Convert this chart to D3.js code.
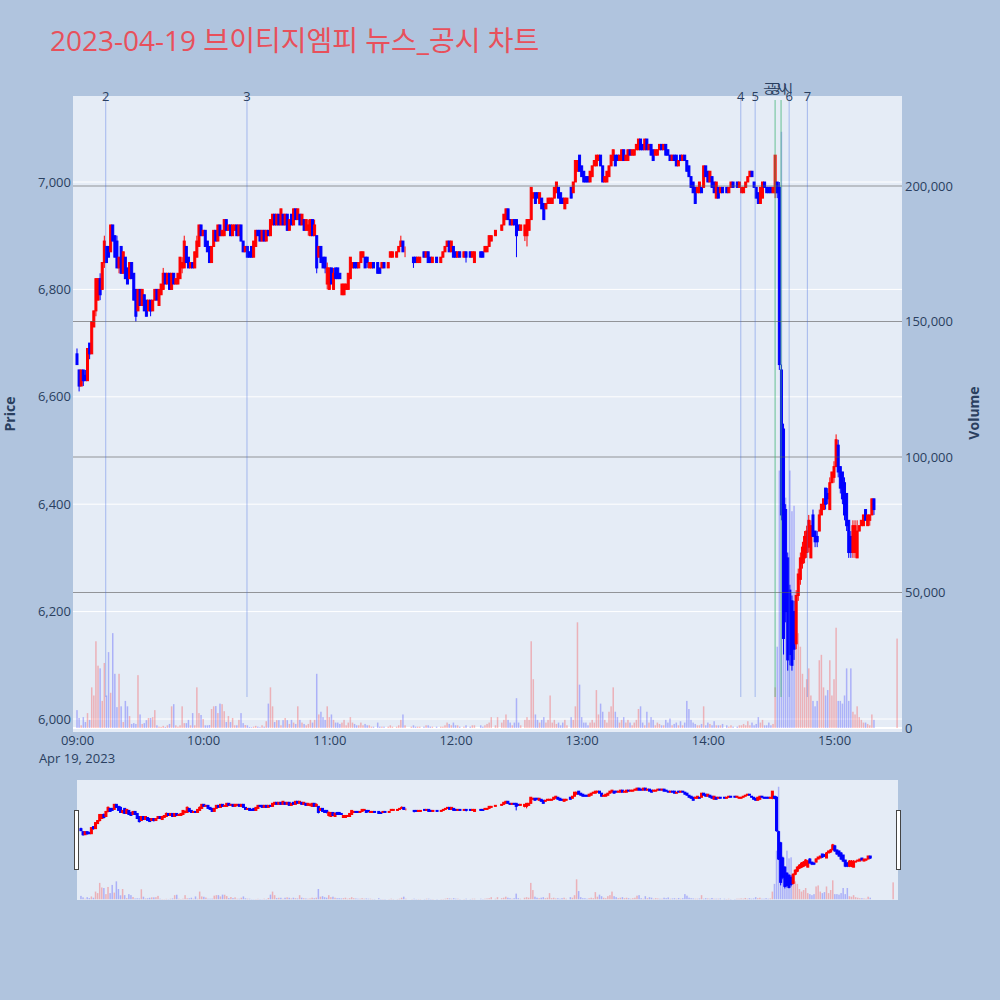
<!DOCTYPE html>
<html><head><meta charset="utf-8">
<script src="https://cdn.jsdelivr.net/npm/d3@7"></script>
<style>body{margin:0;background:#b0c4de;}svg{display:block;font-family:"Open Sans","Noto Sans CJK KR",sans-serif;}</style>
</head><body><svg id="c" width="1000" height="1000"></svg>
<script>
const titleText = "2023-04-19 브이티지엠피 뉴스_공시 차트";
const startTime = "09:00";
const open = [
6680,6650,6620,6650,6640,6630,6700,6680,6730,6760,
6780,6820,6800,6850,6880,6880,6870,6920,6900,6890,
6840,6880,6830,6860,6840,6820,6850,6830,6800,6760,
6800,6770,6790,6780,6760,6780,6760,6780,6800,6770,
6790,6800,6830,6810,6830,6800,6830,6810,6810,6820,
6840,6840,6880,6860,6840,6850,6840,6860,6880,6920,
6900,6910,6890,6880,6850,6880,6910,6890,6920,6900,
6900,6930,6910,6920,6900,6910,6920,6900,6920,6890,
6870,6880,6870,6880,6860,6880,6910,6910,6890,6910,
6890,6910,6900,6920,6940,6920,6940,6920,6940,6920,
6940,6910,6940,6920,6950,6930,6940,6920,6930,6910,
6910,6900,6930,6900,6900,6860,6880,6860,6860,6810,
6800,6840,6800,6840,6840,6830,6790,6790,6800,6800,
6820,6840,6850,6850,6840,6850,6860,6860,6860,6840,
6840,6850,null,6850,6840,6840,6850,null,6840,6860,
6860,null,6860,6870,6880,6890,6870,null,null,6860,
6860,6860,6850,6850,null,6870,6860,6870,6860,6850,
null,6860,null,6850,6860,6870,6880,6890,6870,6880,
6870,6860,6870,null,6860,6870,null,6870,6860,6850,
null,null,6870,6870,6870,6870,6880,6890,null,6900,
6910,null,6910,6920,6930,6950,6930,6920,6930,6930,
6920,6910,null,6900,6900,6910,6930,6970,6980,6980,
6960,6970,6960,6950,6960,6960,6960,6970,6980,6990,
6980,6970,6950,6960,null,6990,6980,7000,7020,7050,
7030,7020,7010,7010,7000,7010,7030,7030,7040,7050,
7030,7000,7000,7010,7030,7040,7050,7050,7040,7040,
7060,7040,7040,7060,7050,7050,7060,7060,7080,7070,
7060,7080,7060,7070,7060,7050,7050,7060,7070,7060,
7070,7060,7050,7040,7050,7050,7030,7050,7040,7050,
7040,7030,7010,7000,6990,6980,6980,6990,6990,7030,
7020,7000,7010,7000,6970,6990,6980,6990,null,6990,
6980,6990,7000,null,7000,6990,6980,6980,6990,7000,
7010,7020,7000,6990,6980,6960,6970,7000,6990,6990,
6990,6980,6980,7000,6990,6650,6540,6390,6300,6240,
6220,6200,6140,6230,6260,6290,6300,6310,6320,6300,
6380,6350,6340,6350,6380,6390,6430,6420,6390,6440,
6450,6470,6510,6470,6460,6440,6420,6370,6340,6310,
6310,6300,6350,6360,6360,6390,6360,6370,6380,6410,
null,null,null,null,null,null,null,null,null,null,
6450];
const high = [
6690,6650,6650,6650,6650,6690,6700,6740,6760,6820,
6820,6830,6850,6900,6880,6880,6920,6920,6900,6900,
6860,6880,6870,6860,6840,6850,6850,6830,6800,6800,
6800,6800,6790,6780,6780,6780,6780,6800,6800,6800,
6810,6840,6830,6830,6830,6830,6830,6820,6830,6860,
6860,6900,6880,6860,6850,6850,6870,6900,6920,6920,
6910,6910,6890,6880,6880,6910,6910,6920,6920,6910,
6930,6930,6920,6920,6920,6920,6920,6920,6920,6890,
6880,6880,6870,6880,6890,6910,6910,6910,6910,6910,
6910,6910,6930,6940,6940,6940,6940,6950,6940,6940,
6940,6930,6940,6950,6950,6950,6940,6940,6930,6930,
6930,6930,6930,6930,6900,6880,6880,6860,6860,6850,
6840,6840,6840,6840,6840,6830,6810,6810,6810,6830,
6860,6850,6850,6850,6850,6870,6870,6860,6860,6850,
6850,6850,null,6850,6840,6850,6850,null,6850,6870,
6870,null,6870,6880,6900,6890,6880,null,null,6860,
6860,6860,6860,6860,null,6870,6870,6870,6860,6860,
null,6860,null,6860,6870,6880,6890,6890,6890,6880,
6870,6870,6870,null,6870,6870,null,6870,6870,6870,
null,null,6870,6870,6880,6880,6900,6900,null,6910,
6910,null,6920,6940,6950,6950,6930,6930,6930,6930,
6920,6920,null,6920,6930,6930,6990,6980,6980,6980,
6980,6970,6960,6960,6970,6970,6970,6990,7000,6990,
6980,6970,6970,6970,null,6990,7000,7040,7040,7050,
7030,7020,7010,7010,7020,7030,7040,7050,7050,7050,
7030,7010,7020,7030,7050,7060,7050,7050,7050,7060,
7060,7050,7060,7060,7060,7060,7070,7080,7080,7070,
7080,7080,7070,7070,7060,7060,7060,7070,7070,7070,
7070,7060,7050,7050,7050,7050,7040,7050,7050,7050,
7040,7030,7010,7000,6990,6990,7000,6990,7030,7030,
7020,7020,7010,7000,7000,6990,6990,6990,null,6990,
6990,7000,7000,null,7000,7000,6990,6990,7000,7010,
7020,7020,7000,6990,6980,6990,7000,7000,6990,6990,
6990,6990,7050,7000,7000,6660,6550,6400,6310,6250,
6230,6220,6240,6280,6310,6330,6350,6360,6380,6370,
6390,6350,6350,6390,6400,6410,6430,6430,6450,6460,
6480,6530,6520,6470,6460,6450,6420,6370,6350,6370,
6370,6370,6360,6370,6380,6390,6380,6380,6410,6410,
null,null,null,null,null,null,null,null,null,null,
6450];
const low = [
6660,6610,6620,6620,6630,6630,6670,6680,6730,6750,
6780,6780,6800,6840,6850,6860,6870,6890,6860,6840,
6830,6830,6830,6820,6810,6820,6820,6780,6740,6760,
6770,6770,6760,6750,6760,6750,6760,6780,6780,6770,
6790,6800,6810,6810,6800,6800,6810,6810,6810,6820,
6830,6840,6850,6840,6840,6840,6840,6860,6880,6900,
6900,6880,6870,6850,6850,6880,6890,6890,6900,6900,
6900,6910,6910,6900,6900,6910,6900,6900,6890,6870,
6870,6860,6860,6860,6860,6880,6900,6890,6890,6890,
6890,6900,6900,6920,6920,6920,6920,6920,6920,6920,
6910,6910,6920,6920,6930,6930,6920,6920,6910,6910,
6900,6900,6900,6900,6830,6860,6850,6840,6830,6800,
6800,6810,6800,6820,6820,6820,6790,6790,6800,6800,
6820,6840,6840,6840,6840,6850,6860,6840,6840,6840,
6840,6840,null,6830,6830,6840,6840,null,6840,6860,
6860,null,6860,6870,6880,6870,6860,null,null,6860,
6840,6850,6850,6850,null,6860,6860,6850,6850,6850,
null,6850,null,6850,6860,6870,6880,6870,6870,6860,
6860,6860,6860,null,6860,6850,null,6860,6860,6850,
null,null,6860,6860,6870,6870,6880,6890,null,6900,
6910,null,6910,6920,6930,6930,6920,6920,6920,6860,
6910,6910,null,6890,6880,6910,6930,6970,6960,6970,
6960,6950,6930,6950,6960,6960,6960,6970,6980,6970,
6960,6960,6950,6960,null,6970,6980,7000,7020,7020,
7010,7000,7000,7000,7000,7010,7030,7030,7040,7030,
7000,7000,7000,7010,7030,7040,7030,7040,7040,7040,
7040,7040,7040,7050,7050,7050,7060,7060,7060,7060,
7060,7060,7060,7050,7040,7050,7050,7060,7060,7060,
7050,7050,7040,7040,7040,7030,7030,7040,7040,7040,
7020,7010,6990,6980,6960,6980,6980,6980,6990,7010,
7000,7000,6990,6980,6970,6970,6980,6980,null,6980,
6980,6990,6990,null,6990,6990,6980,6980,6990,7000,
7010,7010,6990,6970,6960,6960,6970,6990,6980,6980,
6980,6980,6970,6970,6650,6370,6120,6180,6090,6100,
6090,6110,6130,6220,6250,6280,6290,6300,6310,6300,
6340,6320,6320,6350,6380,6390,6390,6400,6390,6440,
6440,6470,6450,6420,6400,6370,6350,6300,6300,6300,
6300,6300,6350,6360,6360,6370,6360,6360,6380,6380,
null,null,null,null,null,null,null,null,null,null,
6450];
const close = [
6660,6620,6650,6630,6630,6690,6680,6740,6760,6820,
6820,6790,6850,6890,6850,6860,6920,6890,6860,6840,
6860,6830,6870,6820,6810,6850,6820,6780,6750,6800,
6770,6800,6760,6750,6780,6760,6780,6800,6780,6800,
6810,6830,6810,6830,6800,6830,6810,6820,6830,6860,
6850,6890,6850,6840,6850,6840,6870,6890,6920,6900,
6910,6880,6870,6850,6880,6910,6890,6920,6900,6910,
6930,6910,6920,6900,6920,6920,6900,6920,6890,6870,
6880,6860,6860,6860,6890,6910,6900,6890,6910,6890,
6910,6900,6930,6940,6920,6940,6920,6950,6920,6940,
6910,6930,6920,6950,6930,6950,6920,6940,6910,6930,
6920,6930,6900,6920,6840,6880,6850,6840,6840,6840,
6840,6810,6830,6820,6820,6820,6810,6810,6810,6830,
6860,6850,6840,6840,6850,6870,6870,6840,6850,6850,
6850,6840,null,6830,6830,6850,6840,null,6850,6870,
6870,null,6870,6880,6890,6870,6870,null,null,6860,
6850,6850,6860,6860,null,6860,6870,6850,6850,6860,
null,6850,null,6860,6870,6880,6890,6870,6890,6860,
6860,6870,6860,null,6870,6860,null,6860,6870,6870,
null,null,6860,6860,6880,6880,6900,6900,null,6910,
6910,null,6920,6940,6950,6930,6920,6930,6920,6900,
6910,6920,null,6920,6930,6930,6990,6980,6960,6970,
6980,6950,6930,6960,6970,6970,6970,6990,7000,6970,
6960,6960,6970,6970,null,6970,7000,7040,7040,7020,
7010,7000,7000,7000,7020,7030,7040,7050,7050,7030,
7000,7010,7020,7030,7050,7060,7030,7040,7050,7060,
7040,7050,7060,7050,7060,7060,7070,7080,7060,7060,
7080,7060,7070,7050,7040,7060,7060,7070,7060,7070,
7050,7050,7040,7050,7040,7030,7040,7040,7050,7040,
7020,7010,6990,6980,6960,6990,7000,6980,7030,7010,
7000,7020,6990,6980,7000,6970,6990,6980,null,6980,
6990,7000,6990,null,6990,7000,6990,6990,7000,7010,
7020,7010,6990,6970,6960,6990,7000,6990,6980,6980,
6980,6990,7050,6980,6660,6380,6150,6200,6110,6120,
6100,6130,6230,6270,6300,6320,6340,6350,6370,6360,
6340,6330,6330,6380,6400,6410,6400,6410,6440,6460,
6470,6520,6460,6430,6410,6380,6360,6310,6310,6360,
6360,6350,6360,6370,6380,6370,6380,6380,6410,6390,
null,null,null,null,null,null,null,null,null,null,
6450];
const volume = [
6600,3700,1000,4000,2200,5500,3000,15000,12000,32000,
23000,22000,10000,24000,12000,28000,13000,35000,20000,7700,
20000,8000,2200,10000,8000,4400,1500,1800,1500,19500,
5000,1500,1800,2900,3700,3700,4000,6600,1000,500,
400,800,400,1000,1500,8000,8800,1000,500,1000,
8000,1800,1800,3000,1000,5500,1000,15000,5500,4800,
3300,1000,1000,1100,7000,8000,8100,5500,9000,8800,
6200,2200,4400,2200,3700,1000,1000,3000,5500,1800,
1100,1000,400,300,500,800,500,300,1000,500,
2500,9000,15000,8000,2200,2900,2900,1000,2900,3700,
2900,1500,3000,2000,1500,8000,3000,2000,1500,1000,
1500,3000,2000,3000,20000,5000,6000,4000,3000,8000,
4000,5000,3000,2000,2000,1500,2000,3000,1000,2000,
4000,2000,1500,1000,1000,2000,1000,1500,1000,1000,
500,500,null,2000,500,500,500,null,500,1000,
500,null,500,1000,3000,5000,1000,null,null,500,
1000,500,500,500,null,500,1000,1000,500,500,
null,500,null,500,500,1000,2000,1500,1000,2000,
1000,1000,500,null,500,1000,null,500,1000,1000,
null,null,1000,500,1000,1500,2000,4000,null,1000,
4000,null,2000,3000,5000,3000,2000,1000,2000,11000,
2000,1000,null,3000,4000,3000,32000,18000,5000,3000,
2000,3000,4000,2000,3000,12000,2000,3000,1500,2000,
1000,2000,3000,1000,null,4000,3000,8000,39000,16000,
4000,2000,2000,1000,2000,3000,2000,14000,5000,9000,
6000,3000,2000,6000,8000,15000,6000,4000,2000,3000,
4000,2000,3000,2000,1000,2000,3000,7000,8000,2000,
1000,6000,2000,4000,3000,1000,2000,1500,1000,1000,
3000,2000,3500,1000,1500,2000,1000,2500,1000,2000,
10000,7000,3000,2000,1500,1000,1000,1500,8000,1000,
2000,1500,1000,2500,1000,1000,1000,1500,null,1000,
500,1000,500,null,500,1000,1000,1500,1000,2500,
1000,2000,1000,1500,4000,2000,3000,1000,1000,2000,
1000,1500,15000,30000,95000,220000,100000,85000,60000,95000,
80000,82000,40000,35000,30000,20000,15000,18000,22000,12000,
10000,8000,10000,25000,27000,15000,12000,14000,25000,12000,
18000,37000,10000,10000,9000,12000,22000,10000,22000,6000,
5000,8000,4000,3000,2000,2000,1500,1000,5000,3000,
null,null,null,null,null,null,null,null,null,null,
33000];
const priceTicks = [6000,6200,6400,6600,6800,7000];
const volumeTicks = [0,50000,100000,150000,200000];
const timeTicks = ["09:00","10:00","11:00","12:00","13:00","14:00","15:00"];
const eventLabels = ["2","3","4","5","6","7"];
const eventTimes = ["09:13:40","10:20:50","14:15:40","14:22:30","14:38:40","14:47:20"];
const disclosureLabel = "공시";
const disclosureTimes = ["14:32:00","14:34:50"];

const day = "2023-04-19";
const parseT = d3.timeParse("%Y-%m-%d %H:%M:%S");
const t = s => parseT(day + " " + (s.length === 5 ? s + ":00" : s));
const start = t(startTime);
const rows = open.map((o, i) => o == null ? null : {
  time: d3.timeMinute.offset(start, i), o, h: high[i], l: low[i], c: close[i], v: volume[i]
}).filter(d => d);

const svg = d3.select("#c");
const TXT = "#2a3f5f";
const UP = "#ff0000", DN = "#0000ff";
const L = 73, R = 902, T = 96, B = 732;
const x = d3.scaleTime().domain([t("08:58:06"), t("15:32:20")]).range([L, R]);
const yP = d3.scaleLinear().domain([6000, 7000]).range([719, 182]);
const yV = d3.scaleLinear().domain([0, 200000]).range([728, 186]);

// slider scales
const SL = 77, SR = 898, ST = 780, SB = 900;
const xs = x.copy().range([SL, SR]);
const frac = v => (B - v) / (B - T);
const yPs = d3.scaleLinear().domain([6000, 7000]).range([SB - frac(719) * (SB - ST), SB - frac(182) * (SB - ST)]);
const yVs = d3.scaleLinear().domain([0, 200000]).range([SB - frac(728) * (SB - ST), SB - frac(186) * (SB - ST)]);

svg.append("rect").attr("width", 1000).attr("height", 1000).attr("fill", "#b0c4de");

// title
svg.append("text").attr("x", 50).attr("y", 51).attr("font-size", 28).attr("fill", "#e8505b").text(titleText);

const defs = svg.append("defs");
defs.append("clipPath").attr("id", "clipMain").append("rect").attr("x", L).attr("y", T).attr("width", R - L).attr("height", B - T);
defs.append("clipPath").attr("id", "clipS").append("rect").attr("x", SL).attr("y", ST).attr("width", SR - SL).attr("height", SB - ST);

svg.append("rect").attr("x", L).attr("y", T).attr("width", R - L).attr("height", B - T).attr("fill", "#e5ecf6");

const gm = svg.append("g").attr("clip-path", "url(#clipMain)");
gm.selectAll("line.pg").data(priceTicks).join("line").attr("class", "pg")
  .attr("x1", L).attr("x2", R).attr("y1", d => yP(d)).attr("y2", d => yP(d))
  .attr("stroke", "#ffffff").attr("stroke-width", 1);
gm.append("line").attr("x1", L).attr("x2", R).attr("y1", yV(0)).attr("y2", yV(0)).attr("stroke", "#fff").attr("stroke-width", 2);

function drawVol(g, xsc, ysc) {
  g.selectAll("rect.v").data(rows).join("rect").attr("class", "v")
    .attr("x", d => xsc(d.time) - 0.75).attr("width", 1.5)
    .attr("y", d => ysc(d.v)).attr("height", d => ysc(0) - ysc(d.v))
    .attr("fill", d => d.c >= d.o ? "rgba(255,0,0,0.25)" : "rgba(0,0,255,0.25)");
}
function drawCandles(g, xsc, ysc) {
  const c = g.selectAll("g.c").data(rows).join("g").attr("class", "c");
  c.append("line").attr("x1", d => xsc(d.time)).attr("x2", d => xsc(d.time))
    .attr("y1", d => ysc(d.h)).attr("y2", d => ysc(d.l))
    .attr("stroke", d => d.c >= d.o ? UP : DN).attr("stroke-width", 1);
  c.append("rect").attr("x", d => xsc(d.time) - 1).attr("width", 2)
    .attr("y", d => ysc(Math.max(d.o, d.c))).attr("height", d => Math.abs(ysc(d.o) - ysc(d.c)))
    .attr("fill", d => d.c >= d.o ? UP : DN)
    .attr("stroke", d => d.c >= d.o ? UP : DN).attr("stroke-width", 1);
}
drawVol(gm.append("g"), x, yV);
drawCandles(gm.append("g"), x, yP);

// volume gridlines (overlay axis)
gm.selectAll("line.vg").data(volumeTicks.filter(d => d > 0)).join("line").attr("class", "vg")
  .attr("x1", L).attr("x2", R).attr("y1", d => yV(d)).attr("y2", d => yV(d))
  .attr("stroke", "rgba(90,90,90,0.6)").attr("stroke-width", 1.2);

// event lines
const gl = svg.append("g");
gl.selectAll("line.ev").data(eventTimes).join("line").attr("class", "ev")
  .attr("x1", d => x(t(d))).attr("x2", d => x(t(d))).attr("y1", T).attr("y2", 697)
  .attr("stroke", "rgba(65,105,225,0.4)").attr("stroke-width", 1);
gl.selectAll("line.ds").data(disclosureTimes).join("line").attr("class", "ds")
  .attr("x1", d => x(t(d))).attr("x2", d => x(t(d))).attr("y1", 100).attr("y2", 697)
  .attr("stroke", "rgba(60,179,113,0.5)").attr("stroke-width", 1.5);
gl.selectAll("text.ev").data(eventTimes).join("text").attr("class", "ev")
  .attr("x", d => x(t(d))).attr("y", 101).attr("text-anchor", "middle")
  .attr("font-size", 13).attr("fill", TXT).text((d, i) => eventLabels[i]);
gl.selectAll("text.ds").data(disclosureTimes).join("text").attr("class", "ds")
  .attr("x", d => x(t(d))).attr("y", 93).attr("text-anchor", "middle")
  .attr("font-size", 13).attr("fill", TXT).text(disclosureLabel);

// axes
const fmt = d3.format(",");
const ax1 = svg.append("g").attr("transform", `translate(${L},0)`)
  .call(d3.axisLeft(yP).tickValues(priceTicks).tickFormat(fmt).tickSize(0).tickPadding(2));
const ax2 = svg.append("g").attr("transform", `translate(${R},0)`)
  .call(d3.axisRight(yV).tickValues(volumeTicks).tickFormat(fmt).tickSize(0).tickPadding(3));
const ax3 = svg.append("g").attr("transform", `translate(0,${B})`)
  .call(d3.axisBottom(x).tickValues(timeTicks.map(t)).tickFormat(d3.timeFormat("%H:%M")).tickSize(0).tickPadding(4));
[ax1, ax2, ax3].forEach(a => {
  a.select(".domain").remove();
  a.selectAll("text").attr("fill", TXT).attr("font-size", 13).attr("font-family", '"Open Sans",sans-serif');
});
svg.append("text").attr("x", x(start)).attr("y", 763).attr("text-anchor", "middle")
  .attr("font-size", 13).attr("fill", TXT).text(d3.timeFormat("%b %-d, %Y")(start));

svg.append("text").attr("transform", "translate(15,414) rotate(-90)").attr("text-anchor", "middle")
  .attr("font-size", 14).attr("font-weight", "bold").attr("fill", TXT).text("Price");
svg.append("text").attr("transform", "translate(979,413) rotate(-90)").attr("text-anchor", "middle")
  .attr("font-size", 14).attr("font-weight", "bold").attr("fill", TXT).text("Volume");

// range slider
svg.append("rect").attr("x", SL).attr("y", ST).attr("width", SR - SL).attr("height", SB - ST).attr("fill", "#e5ecf6");
const gs = svg.append("g").attr("clip-path", "url(#clipS)");
drawVol(gs.append("g"), xs, yVs);
drawCandles(gs.append("g"), xs, yPs);
[SL - 2.5, SR - 1.5].forEach(hx => {
  svg.append("rect").attr("x", hx).attr("y", 810.5).attr("width", 4).attr("height", 59)
    .attr("fill", "#fff").attr("stroke", "#444").attr("stroke-width", 1);
});
</script></body></html>
